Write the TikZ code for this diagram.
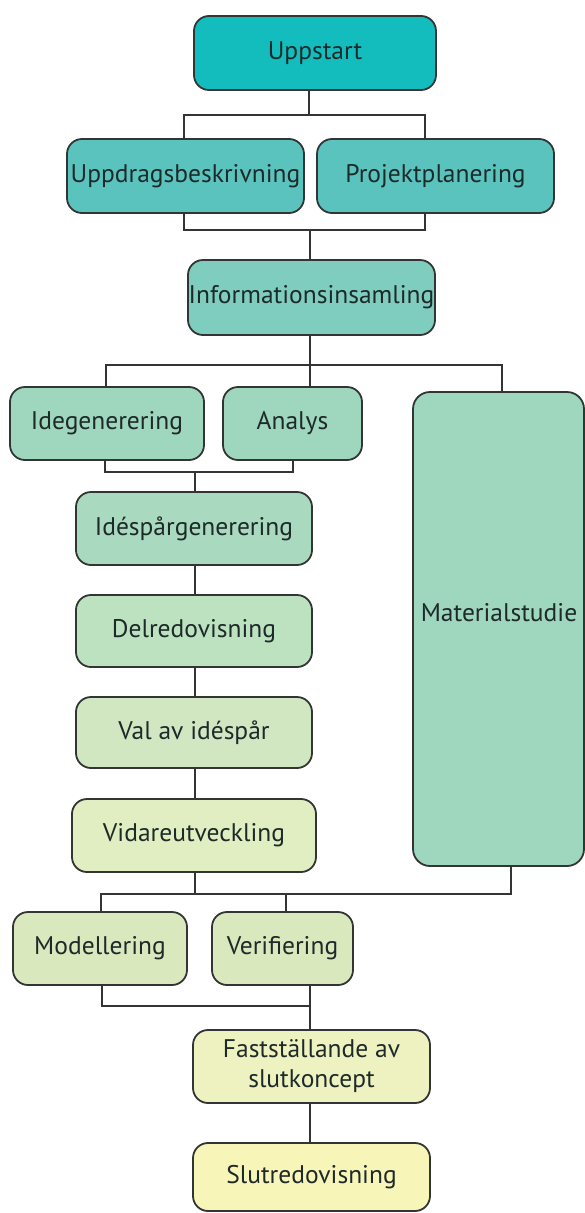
\documentclass[tikz,border=0pt]{standalone}
\usepackage{fontspec}
\setmainfont{PT Sans}
\usetikzlibrary{calc}
\definecolor{cA}{HTML}{13BDBE}
\definecolor{cB}{HTML}{5AC3BE}
\definecolor{cC}{HTML}{7ECDBF}
\definecolor{cD}{HTML}{9ED6BE}
\definecolor{cE}{HTML}{A9DABF}
\definecolor{cF}{HTML}{BDE2C0}
\definecolor{cG}{HTML}{D0E7C1}
\definecolor{cH}{HTML}{E0EEC1}
\definecolor{cI}{HTML}{DAE9BD}
\definecolor{cJ}{HTML}{EEF2C0}
\definecolor{cK}{HTML}{F8F5B9}
\definecolor{linec}{HTML}{333535}
\definecolor{textc}{HTML}{1E2A2A}
\tikzset{
  stepbox/.style={draw=linec, line width=1.8pt, rounded corners=15pt, inner sep=0pt,
    text=textc, align=center, font=\fontsize{25.5}{30}\selectfont},
  conn/.style={draw=linec, line width=1.8pt},
  lbl/.style={text=textc, inner sep=0pt, font=\fontsize{25.5}{30}\selectfont}
}
\begin{document}
\begin{tikzpicture}[x=1pt,y=-1pt]
\useasboundingbox (0,0) rectangle (585,1213);
\fill[white] (0,0) rectangle (585,1213);

% boxes
\node[stepbox, fill=cA, minimum width=242pt, minimum height=74pt] (up) at (315,53) {Uppstart};
\node[stepbox, fill=cB, minimum width=237pt, minimum height=74pt] (ud) at (185.5,176) {Uppdragsbeskrivning};
\node[stepbox, fill=cB, minimum width=237pt, minimum height=74pt] (pp) at (435.5,176) {Projektplanering};
\node[stepbox, fill=cC, minimum width=247pt, minimum height=75pt] (info) at (311.5,297.5) {Informationsinsamling};
\node[stepbox, fill=cD, minimum width=194pt, minimum height=73pt] (ide) at (107,423.5) {Idegenerering};
\node[stepbox, fill=cD, minimum width=139pt, minimum height=73pt] (ana) at (292.5,423.5) {Analys};
\node[stepbox, fill=cD, minimum width=171pt, minimum height=474pt, rounded corners=17pt] (mat) at (498.5,629) {};
\node[lbl] (matt) at (499,613) {Materialstudie};
\node[stepbox, fill=cE, minimum width=236pt, minimum height=73pt] (isg) at (194,528.5) {Idéspårgenerering};
\node[stepbox, fill=cF, minimum width=236pt, minimum height=72pt] (del) at (194,631) {Delredovisning};
\node[stepbox, fill=cG, minimum width=236pt, minimum height=71pt] (val) at (194,732.5) {Val av idéspår};
\node[stepbox, fill=cH, minimum width=244pt, minimum height=73pt] (vid) at (194,835.5) {Vidareutveckling};
\node[stepbox, fill=cI, minimum width=174pt, minimum height=73pt] (mod) at (100,948.5) {Modellering};
\node[stepbox, fill=cI, minimum width=141pt, minimum height=73pt] (ver) at (282.5,948.5) {Verifiering};
\node[stepbox, fill=cJ, minimum width=237pt, minimum height=73pt] (fas) at (311.5,1066.5) {Fastställande av\\slutkoncept};
\node[stepbox, fill=cK, minimum width=237pt, minimum height=68pt] (slut) at (311.5,1177) {Slutredovisning};

% connectors
\draw[conn] (up.south -| 309,0) -- (309,115);
\draw[conn] (ud.north -| 184,0) -- (184,115) -- (425,115) -- (pp.north -| 425,0);
\draw[conn] (ud.south -| 184,0) -- (184,230) -- (425,230) -- (pp.south -| 425,0);
\draw[conn] (310,230) -- (info.north -| 310,0);
\draw[conn] (info.south -| 310,0) -- (310,365);
\draw[conn] (ide.north -| 106,0) -- (106,365) -- (502,365) -- (mat.north -| 502,0);
\draw[conn] (310,365) -- (ana.north -| 310,0);
\draw[conn] (ide.south -| 105,0) -- (105,472) -- (293,472) -- (ana.south -| 293,0);
\draw[conn] (195,472) -- (isg.north -| 195,0);
\draw[conn] (isg.south -| 195,0) -- (del.north -| 195,0);
\draw[conn] (del.south -| 195,0) -- (val.north -| 195,0);
\draw[conn] (val.south -| 195,0) -- (vid.north -| 195,0);
\draw[conn] (vid.south -| 195,0) -- (195,894);
\draw[conn] (mod.north -| 101,0) -- (101,894) -- (511,894) -- (mat.south -| 511,0);
\draw[conn] (286,894) -- (ver.north -| 286,0);
\draw[conn] (mod.south -| 102,0) -- (102,1006) -- (310,1006) -- (ver.south -| 310,0);
\draw[conn] (310,1006) -- (fas.north -| 310,0);
\draw[conn] (fas.south -| 310,0) -- (slut.north -| 310,0);
\end{tikzpicture}
\end{document}
